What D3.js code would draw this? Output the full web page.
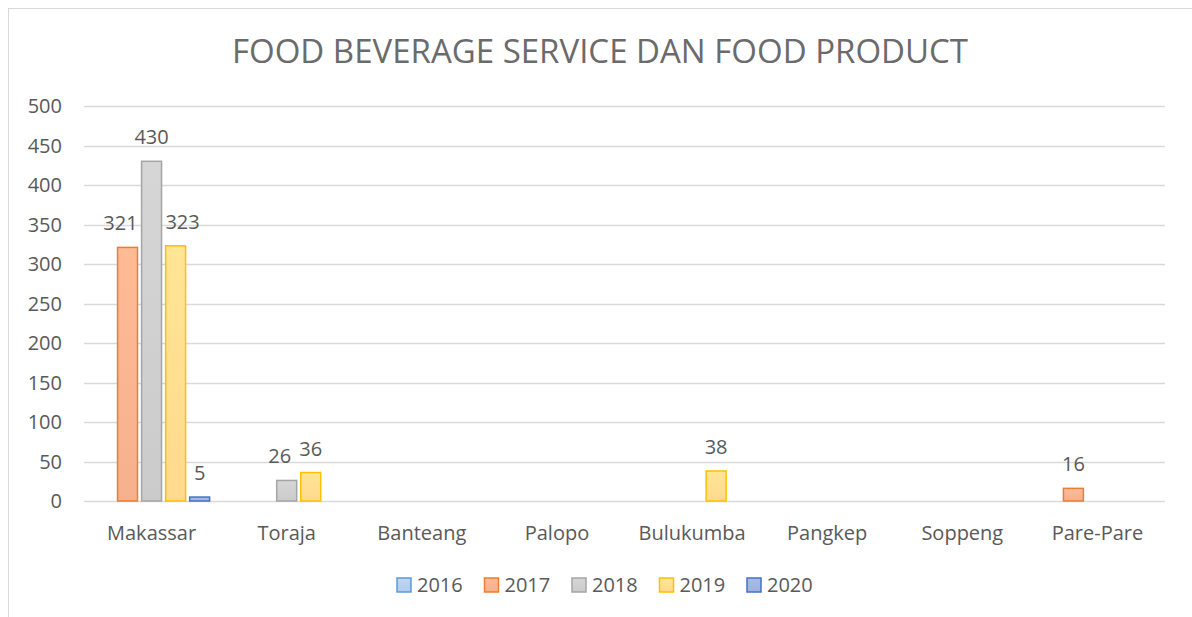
<!DOCTYPE html>
<html>
<head>
<meta charset="utf-8">
<script src="https://cdn.jsdelivr.net/npm/d3@7"></script>
<style>
  body { margin: 0; background: #fff; }
  svg text { font-family: "Open Sans", "Noto Sans", sans-serif; fill: #595959; }
</style>
</head>
<body>
<svg width="1192" height="617"></svg>
<script>
// data (null = no bar)
var categories = ["Makassar", "Toraja", "Banteang", "Palopo", "Bulukumba", "Pangkep", "Soppeng", "Pare-Pare"];
var years = ["2016", "2017", "2018", "2019", "2020"];
var v2016 = [null, null, null, null, null, null, null, null];
var v2017 = [321, null, null, null, null, null, null, 16];
var v2018 = [430, 26, null, null, null, null, null, null];
var v2019 = [323, 36, null, null, 38, null, null, null];
var v2020 = [5, null, null, null, null, null, null, null];
var yTicks = [0, 50, 100, 150, 200, 250, 300, 350, 400, 450, 500];

var fills = ["#b4cbea", "#f5b08e", "#cbcbcb", "#ffd98e", "#9fb2dd"];
var strokes = ["#5b9bd5", "#ed7d31", "#a5a5a5", "#ffc000", "#4472c4"];

var series = [v2016, v2017, v2018, v2019, v2020];

var svg = d3.select("svg");
var plotLeft = 84, plotRight = 1165, plotTop = 106, plotBottom = 501;

// chart frame
svg.append("rect")
	.attr("x", 8.5).attr("y", 8.5)
	.attr("width", 1200).attr("height", 640)
	.attr("fill", "none")
	.attr("stroke", "#d9d9d9");

var defs = svg.append("defs");
years.forEach(function(yr, i) {
	var g = defs.append("linearGradient")
		.attr("id", "g" + yr)
		.attr("x1", 0).attr("y1", 0).attr("x2", 0).attr("y2", 1);
	g.append("stop").attr("offset", "0%").attr("stop-color", d3.color(fills[i]).brighter(0.15));
	g.append("stop").attr("offset", "100%").attr("stop-color", fills[i]);
});

var x0 = d3.scaleBand().domain(categories).range([plotLeft, plotRight]);
var x1 = d3.scaleBand().domain(years).range([9.5, x0.bandwidth() - 9.5]).paddingInner(0.17);
var y = d3.scaleLinear().domain([0, 500]).range([plotBottom, plotTop]);

// gridlines
svg.append("g")
	.selectAll("line")
	.data(yTicks)
	.enter().append("line")
	.attr("x1", plotLeft).attr("x2", plotRight)
	.attr("y1", function(d) { return Math.round(y(d)) + 0.5; })
	.attr("y2", function(d) { return Math.round(y(d)) + 0.5; })
	.attr("stroke", "#d9d9d9")
	.attr("stroke-width", 1.3);

// y tick labels
svg.append("g")
	.selectAll("text")
	.data(yTicks)
	.enter().append("text")
	.attr("x", 62)
	.attr("y", function(d) { return y(d); })
	.attr("dy", "0.35em")
	.attr("text-anchor", "end")
	.style("font-size", "20px")
	.text(function(d) { return d; });

// x labels
svg.append("g")
	.selectAll("text")
	.data(categories)
	.enter().append("text")
	.attr("x", function(d) { return x0(d) + x0.bandwidth() / 2; })
	.attr("y", 540)
	.attr("text-anchor", "middle")
	.style("font-size", "20px")
	.text(function(d) { return d; });

// bars
var rows = [];
series.forEach(function(vals, si) {
	vals.forEach(function(v, ci) {
		if (v != null) rows.push({ year: years[si], idx: si, ci: ci, cat: categories[ci], value: v });
	});
});

svg.append("g")
	.selectAll("rect")
	.data(rows)
	.enter().append("rect")
	.attr("x", function(d) { return x0(d.cat) + x1(d.year); })
	.attr("y", function(d) { return y(d.value); })
	.attr("width", x1.bandwidth())
	.attr("height", function(d) { return y(0) - y(d.value); })
	.attr("fill", function(d) { return "url(#g" + d.year + ")"; })
	.attr("stroke", function(d) { return strokes[d.idx]; })
	.attr("stroke-width", 1.5);

// push a label sideways when it is wider than its bar and the next bar is taller
function nudge(d) {
	if (String(d.value).length * 11.5 <= x1.bandwidth()) return 0;
	var l = d.idx > 0 ? series[d.idx - 1][d.ci] : null;
	var r = d.idx < series.length - 1 ? series[d.idx + 1][d.ci] : null;
	if (r != null && r > d.value) return -7;
	if (l != null && l > d.value) return 7;
	return 0;
}

// data labels
svg.append("g")
	.selectAll("text")
	.data(rows)
	.enter().append("text")
	.attr("x", function(d) { return x0(d.cat) + x1(d.year) + x1.bandwidth() / 2 + nudge(d); })
	.attr("y", function(d) { return y(d.value) - 17; })
	.attr("text-anchor", "middle")
	.style("font-size", "20px")
	.text(function(d) { return d.value; });

// title
svg.append("text")
	.attr("x", 600)
	.attr("y", 63)
	.attr("text-anchor", "middle")
	.style("font-size", "33px")
	.style("fill", "#6b6b6b")
	.text("FOOD BEVERAGE SERVICE DAN FOOD PRODUCT");

// legend
var legend = svg.append("g")
	.selectAll("g")
	.data(years)
	.enter().append("g")
	.attr("transform", function(d, i) { return "translate(" + (397 + i * 87.5) + ",578)"; });

legend.append("rect")
	.attr("width", 14).attr("height", 14)
	.attr("fill", function(d) { return "url(#g" + d + ")"; })
	.attr("stroke", function(d, i) { return strokes[i]; })
	.attr("stroke-width", 1.5);

legend.append("text")
	.attr("x", 20)
	.attr("y", 7)
	.attr("dy", "0.35em")
	.style("font-size", "20px")
	.text(function(d) { return d; });
</script>
</body>
</html>
